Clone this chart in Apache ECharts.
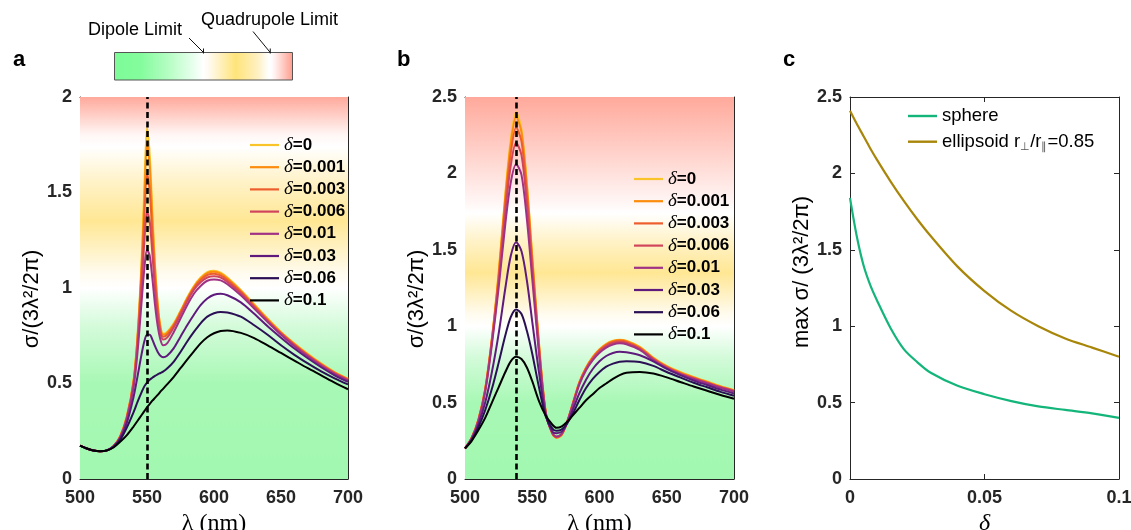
<!DOCTYPE html>
<html><head><meta charset="utf-8">
<script src="https://cdn.jsdelivr.net/npm/echarts@6/dist/echarts.min.js"></script>
<style>html,body{margin:0;padding:0;background:#fff}#c{width:1131px;height:530px}</style>
</head><body><div id="c"></div>
<script>
// ---------- DATA ----------
const deltaNames = ['δ=0','δ=0.001','δ=0.003','δ=0.006','δ=0.01','δ=0.03','δ=0.06','δ=0.1'];
const deltaColors = ['#f9c42a','#fb8c0c','#ec5e2e','#d1455c','#a03285','#5e1a7c','#2a0f55','#000000'];

// panel a: wavelength (nm)
const lambdaA = [500,505,510,515,520,525,530,535,540,543,546,548,550,552,554,556,558,560,562,565,570,575,580,585,590,595,600,605,610,620,630,640,650,660,670,680,690,700];
const aD0    = [.175,.160,.149,.145,.150,.172,.225,.33,.52,.76,1.15,1.52,1.84,1.70,1.40,1.12,.92,.80,.76,.77,.815,.88,.95,1.01,1.055,1.083,1.09,1.08,1.055,.99,.915,.84,.77,.71,.655,.605,.56,.525];
const aD001  = [.175,.160,.149,.145,.150,.172,.224,.328,.515,.75,1.12,1.46,1.76,1.64,1.36,1.10,.91,.795,.755,.765,.81,.877,.945,1.005,1.05,1.078,1.085,1.075,1.05,.985,.91,.836,.767,.707,.652,.602,.558,.523];
const aD003  = [.175,.160,.149,.145,.150,.172,.222,.325,.51,.74,1.08,1.37,1.60,1.51,1.28,1.05,.885,.78,.745,.755,.805,.87,.94,1.0,1.042,1.068,1.075,1.066,1.042,.98,.905,.832,.764,.704,.649,.60,.556,.521];
const aD006  = [.175,.160,.149,.145,.150,.172,.22,.32,.50,.71,1.01,1.24,1.40,1.35,1.18,.99,.85,.765,.73,.74,.795,.86,.93,.99,1.03,1.055,1.062,1.055,1.032,.972,.90,.828,.76,.70,.646,.597,.553,.518];
const aD01   = [.175,.160,.149,.145,.150,.171,.218,.315,.48,.67,.93,1.10,1.20,1.17,1.05,.91,.80,.73,.70,.71,.77,.84,.91,.97,1.01,1.038,1.045,1.04,1.02,.962,.892,.822,.755,.695,.642,.593,.55,.515];
const aD03   = [.175,.160,.149,.145,.150,.170,.212,.295,.43,.54,.655,.72,.755,.755,.73,.695,.665,.645,.637,.645,.685,.745,.805,.86,.91,.945,.965,.97,.962,.925,.865,.80,.74,.683,.632,.585,.543,.508];
const aD06   = [.175,.160,.149,.145,.150,.168,.205,.27,.35,.405,.455,.485,.505,.52,.53,.54,.548,.555,.562,.578,.615,.665,.72,.77,.815,.85,.868,.875,.872,.85,.805,.755,.70,.65,.605,.563,.527,.495];
const aD1    = [.175,.160,.149,.145,.149,.165,.195,.23,.275,.305,.335,.355,.375,.392,.41,.425,.44,.457,.472,.495,.535,.58,.625,.668,.71,.742,.763,.775,.778,.765,.738,.70,.66,.62,.58,.543,.505,.47];
const peakA = 550;

// panel b
const lambdaB = [500,505,510,515,520,525,530,534,538,542,546,550,555,560,565,568,572,576,580,585,590,595,600,605,610,615,620,630,640,650,660,670,680,690,700];
const bD0    = [.20,.27,.39,.59,.92,1.35,1.87,2.22,2.40,2.29,1.94,1.46,.89,.44,.295,.27,.29,.375,.49,.635,.73,.80,.85,.885,.905,.912,.905,.865,.795,.74,.70,.668,.638,.608,.582];
const bD001  = [.20,.27,.39,.59,.92,1.34,1.85,2.19,2.37,2.27,1.92,1.45,.885,.44,.295,.27,.29,.375,.49,.633,.728,.797,.847,.882,.902,.909,.902,.862,.792,.737,.697,.665,.635,.605,.58];
const bD003  = [.20,.27,.39,.585,.91,1.32,1.81,2.13,2.30,2.21,1.87,1.42,.87,.435,.297,.272,.292,.375,.488,.63,.725,.793,.842,.877,.897,.904,.897,.857,.788,.733,.693,.662,.632,.602,.578];
const bD006  = [.20,.268,.385,.58,.90,1.29,1.75,2.05,2.20,2.12,1.80,1.37,.85,.435,.30,.275,.295,.375,.485,.625,.72,.787,.835,.87,.89,.897,.891,.852,.784,.73,.69,.659,.629,.60,.575];
const bD01   = [.20,.267,.38,.57,.88,1.25,1.67,1.94,2.06,1.99,1.70,1.31,.82,.43,.30,.278,.298,.375,.48,.618,.712,.778,.826,.86,.88,.888,.882,.845,.778,.725,.686,.655,.626,.597,.572];
const bD03   = [.20,.26,.36,.50,.70,.95,1.25,1.46,1.55,1.49,1.30,1.03,.70,.42,.31,.30,.31,.365,.45,.56,.65,.72,.77,.805,.825,.833,.83,.81,.77,.72,.68,.645,.615,.585,.56];
const bD06   = [.20,.255,.34,.45,.59,.76,.94,1.06,1.11,1.08,.97,.82,.60,.41,.33,.315,.325,.365,.425,.515,.595,.655,.70,.735,.755,.768,.77,.765,.74,.70,.665,.63,.60,.57,.545];
const bD1    = [.20,.25,.32,.40,.50,.60,.70,.77,.80,.785,.73,.64,.51,.415,.355,.335,.345,.375,.415,.465,.515,.555,.595,.625,.655,.68,.695,.70,.69,.665,.635,.605,.578,.55,.525];
const peakB = 538;

// panel c
const deltaC     = [0,0.0025,0.005,0.0075,0.01,0.015,0.02,0.025,0.03,0.04,0.05,0.06,0.07,0.08,0.09,0.1];
const sphereMax  = [1.84,1.59,1.40,1.27,1.17,0.99,0.85,0.765,0.695,0.61,0.555,0.51,0.475,0.452,0.43,0.40];
const ellipsMax  = [2.41,2.325,2.245,2.165,2.09,1.95,1.82,1.70,1.59,1.39,1.23,1.10,1.00,0.92,0.86,0.80];

// colour scale (value -> colour), limits
const cbMin = 0, cbMax = 2, dipoleLimit = 1, quadLimit = 1.75;
const bgStopV = [0, 0.5, 0.8, 1.0, 1.08, 1.35, 1.55, 1.74, 1.8];
const bgStopC = ['#a2f8b0','#a8f8b5','#d4fbda','#ffffff','#fffbee','#ffe794','#fff2c6','#ffffff','#fff7f6'];
const bgTopC = '#ffa99b';

// ---------- BUILD ----------
const FONT = '"Liberation Sans", Arial, sans-serif';
const SERIF = '"Liberation Serif", "Times New Roman", serif';
const AXC = '#262626';

const grids = [
  {left:80, top:97, width:268, height:382, outerBoundsMode:'none', containLabel:false},
  {left:465, top:97, width:269, height:382, outerBoundsMode:'none', containLabel:false},
  {left:850, top:97, width:269, height:382, outerBoundsMode:'none', containLabel:false}
];

function xAxes(gi, min, max, interval, name, nameStyle) {
  const line = {show:true, onZero:false, lineStyle:{color:AXC, width:1}};
  const tick = {show:true, inside:true, length:5, lineStyle:{color:AXC}};
  return [
    {gridIndex:gi, type:'value', min, max, interval, position:'bottom', axisLine:line, axisTick:tick,
     axisLabel:{color:AXC, fontSize:18, fontWeight:'bold', fontFamily:FONT, margin:10},
     splitLine:{show:false}, name, nameLocation:'middle', nameGap:29, nameTextStyle:nameStyle},
    {gridIndex:gi, type:'value', min, max, interval, position:'top', axisLine:line, axisTick:tick,
     axisLabel:{show:false}, splitLine:{show:false}}
  ];
}
function yAxes(gi, min, max, interval, name, nameSize, gap, pad) {
  const line = {show:true, onZero:false, lineStyle:{color:AXC, width:1}};
  const tick = {show:true, inside:true, length:5, lineStyle:{color:AXC}};
  return [
    {gridIndex:gi, type:'value', min, max, interval, position:'left', axisLine:line, axisTick:tick,
     axisLabel:{color:AXC, fontSize:18, fontWeight:'bold', fontFamily:FONT, margin:8},
     splitLine:{show:false}, name, nameLocation:'middle', nameRotate:90, nameGap:gap,
     nameTextStyle:{color:'#000', fontSize:nameSize, fontFamily:FONT, padding:pad}},
    {gridIndex:gi, type:'value', min, max, interval, position:'right', axisLine:line, axisTick:tick,
     axisLabel:{show:false}, splitLine:{show:false}}
  ];
}
const lamStyle = {color:'#000', fontSize:24, fontFamily:SERIF};
const xAxis = [].concat(
  xAxes(0, 500, 700, 50, 'λ (nm)', lamStyle),
  xAxes(1, 500, 700, 50, 'λ (nm)', lamStyle),
  xAxes(2, 0, 0.1, 0.05, 'δ', {color:'#000', fontSize:24, fontFamily:SERIF, fontStyle:'italic'})
);
const yAxis = [].concat(
  yAxes(0, 0, 2, 0.5, 'σ/(3λ²/2π)', 22, 34, [0,22,0,0]),
  yAxes(1, 0, 2.5, 0.5, 'σ/(3λ²/2π)', 22, 33, [0,22,0,0]),
  yAxes(2, 0, 2.5, 0.5, 'max σ/ (3λ²/2π)', 22, 37, [0,0,0,32])
);

function bgGrad(max) {
  const stops = bgStopV.map((v,i)=>({offset: Math.min(1, v/max), color: bgStopC[i]}));
  stops.push({offset:1, color: bgTopC});
  return {type:'linear', x:0, y:1, x2:0, y2:0, colorStops: stops};
}
function bgSeries(ai, xmin, xmax, ymax) {
  return {type:'line', name:'bg'+ai, xAxisIndex:2*ai, yAxisIndex:2*ai, data:[], silent:true, z:0,
    animation:false,
    markArea:{silent:true, itemStyle:{color:bgGrad(ymax), opacity:1},
      data:[[{xAxis:xmin, yAxis:0},{xAxis:xmax, yAxis:ymax}]]}};
}
function peakSeries(ai, x) {
  return {type:'line', name:'peak'+ai, xAxisIndex:2*ai, yAxisIndex:2*ai, data:[], silent:true, z:6,
    animation:false,
    markLine:{silent:true, symbol:'none', label:{show:false}, animation:false,
      lineStyle:{color:'#000', width:2.6, type:[6,3.5]}, data:[{xAxis:x}]}};
}
function lineSeries(name, xs, ys, ai, color, w) {
  return {type:'line', name, xAxisIndex:2*ai, yAxisIndex:2*ai, data: xs.map((x,i)=>[x, ys[i]]),
    symbol:'none', showSymbol:false, smooth:0.3, lineStyle:{color, width:w}, itemStyle:{color}, z:3, silent:true, animation:false};
}

const seriesA = [aD0,aD001,aD003,aD006,aD01,aD03,aD06,aD1];
const seriesB = [bD0,bD001,bD003,bD006,bD01,bD03,bD06,bD1];

const series = [bgSeries(0,500,700,2), bgSeries(1,500,700,2.5)];
seriesA.forEach((ys,i)=>series.push(lineSeries(deltaNames[i], lambdaA, ys, 0, deltaColors[i], 2)));
seriesB.forEach((ys,i)=>series.push(lineSeries(deltaNames[i], lambdaB, ys, 1, deltaColors[i], 2)));
series.push(peakSeries(0, peakA), peakSeries(1, peakB));
series.push(lineSeries('sphere', deltaC, sphereMax, 2, '#14b57a', 2.2));
series.push(lineSeries('ellipsoid', deltaC, ellipsMax, 2, '#a8860a', 2.2));

const legendText = {
  color:'#000', fontSize:17, fontWeight:'bold', fontFamily:FONT, lineHeight:20,
  rich:{
    i:{fontFamily:SERIF, fontStyle:'italic', fontWeight:'normal', fontSize:19, color:'#000', lineHeight:20},
    b:{fontFamily:FONT, fontWeight:'bold', fontSize:17, color:'#000', lineHeight:20}
  }
};
const deltaFmt = n => '{i|δ}{b|' + n.slice(1) + '}';
function deltaLegend(left, top) {
  return {data:deltaNames, orient:'vertical', left, top, itemWidth:29, itemHeight:2.2, itemGap:2.2,
    icon:'rect', selectedMode:false, formatter:deltaFmt, textStyle:legendText, padding:0};
}
const legend = [
  deltaLegend(250, 135),
  deltaLegend(634, 169),
  {data:['sphere','ellipsoid'], orient:'vertical', left:908, top:105, itemWidth:29, itemHeight:2.4, itemGap:3.7,
   icon:'rect', selectedMode:false, padding:0,
   formatter: n => n === 'sphere' ? 'sphere' : 'ellipsoid r{s|⊥}/r{s|∥}=0.85',
   textStyle:{color:'#000', fontSize:18.5, fontFamily:FONT, lineHeight:22,
     rich:{s:{fontSize:11, fontFamily:FONT, color:'#555', verticalAlign:'bottom', lineHeight:22, padding:[9,0,0,0]}}}}
];

// colour bar
const cbX = 114.5, cbY = 52.5, cbW = 178, cbH = 27.5;
const cbFrac = v => (v - cbMin) / (cbMax - cbMin);
const cbGrad = new echarts.graphic.LinearGradient(0,0,1,0,[
  {offset:0, color:'#7dfc98'},{offset:0.15, color:'#84fc9d'},{offset:0.3, color:'#b4fdc2'},
  {offset:0.45, color:'#eafff0'},{offset:cbFrac(dipoleLimit), color:'#ffffff'},{offset:0.53, color:'#fffaf0'},
  {offset:0.68, color:'#ffe47a'},{offset:0.8, color:'#fff0c0'},{offset:0.865, color:'#ffffff'},
  {offset:cbFrac(quadLimit), color:'#ffffff'},{offset:0.9, color:'#fff0ee'},{offset:1, color:'#ff9c8c'}]);
const xDip = cbX + cbW * cbFrac(dipoleLimit);
const xQuad = cbX + cbW * cbFrac(quadLimit);

const graphic = [
  {type:'rect', shape:{x:cbX, y:cbY, width:cbW, height:cbH}, style:{fill:cbGrad, stroke:'#555', lineWidth:1}},
  {type:'text', style:{x:88, y:30, text:'Dipole Limit', font:'18px '+FONT, fill:'#000', verticalAlign:'middle'}},
  {type:'text', style:{x:201, y:20, text:'Quadrupole Limit', font:'18px '+FONT, fill:'#000', verticalAlign:'middle'}},
  {type:'line', shape:{x1:189, y1:38, x2:xDip, y2:cbY}, style:{stroke:'#111', lineWidth:1}},
  {type:'line', shape:{x1:xDip, y1:cbY-4, x2:xDip, y2:cbY+1}, style:{stroke:'#111', lineWidth:1}},
  {type:'line', shape:{x1:253, y1:31.5, x2:xQuad, y2:cbY}, style:{stroke:'#111', lineWidth:1}},
  {type:'line', shape:{x1:xQuad, y1:cbY-4, x2:xQuad, y2:cbY+1}, style:{stroke:'#111', lineWidth:1}},
  {type:'text', style:{x:13, y:60, text:'a', font:'bold 22px '+FONT, fill:'#000', verticalAlign:'middle'}},
  {type:'text', style:{x:397, y:60, text:'b', font:'bold 22px '+FONT, fill:'#000', verticalAlign:'middle'}},
  {type:'text', style:{x:783, y:60, text:'c', font:'bold 22px '+FONT, fill:'#000', verticalAlign:'middle'}}
];

const chart = echarts.init(document.getElementById('c'), null, {renderer:'canvas'});
chart.setOption({animation:false, backgroundColor:'#fff', grid:grids, xAxis, yAxis, series, legend, graphic});
</script></body></html>
